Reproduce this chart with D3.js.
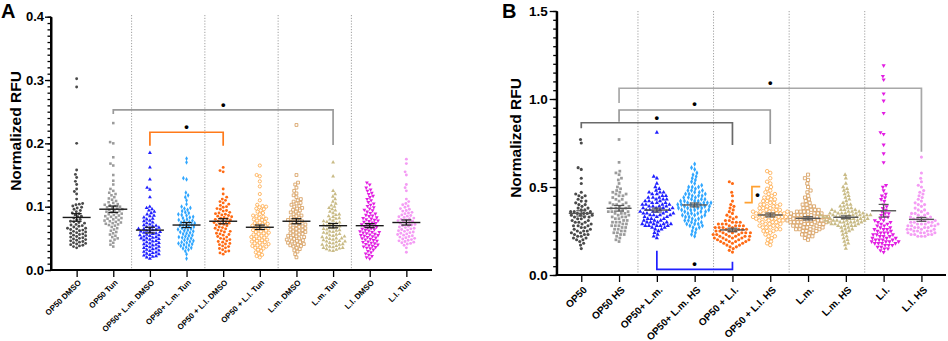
<!DOCTYPE html>
<html><head><meta charset="utf-8">
<script src="https://cdn.jsdelivr.net/npm/d3@7"></script>
<style>body{margin:0;background:#fff}svg{display:block}text{font-family:"Liberation Sans",Arial,sans-serif;font-weight:bold;fill:#000}</style>
</head><body><svg id="c" width="948" height="341"></svg>
<script>
// ---------------- DATA ----------------
const catsA = ["OP50 DMSO","OP50 Tun","OP50+ L.m. DMSO","OP50+ L.m. Tun","OP50 + L.l. DMSO","OP50 + L.l. Tun","L.m. DMSO","L.m. Tun","L.l. DMSO","L.l. Tun"];
const catsB = ["OP50","OP50 HS","OP50+ L.m.","OP50+ L.m. HS","OP50 + L.l.","OP50 + L.l. HS","L.m.","L.m. HS","L.l.","L.l. HS"];
const yTicksA = [0.0,0.1,0.2,0.3,0.4];
const yTicksB = [0.0,0.5,1.0,1.5];
const colors = ["#4a4a4a","#9b9b9b","#2020ff","#2fa6ff","#ff6a13","#ffa845","#d69a58","#c9bb86","#e21ee2","#f49cf4"];
const shapes = ["circle","square","triangle","diamond","circle","circleOpen","squareOpen","triangle","triangleDown","circle"];

const meanA = [0.083,0.096,0.063,0.071,0.077,0.0675,0.077,0.070,0.070,0.075];
const semA  = [0.006,0.005,0.0045,0.004,0.004,0.0035,0.004,0.0035,0.0032,0.004];
const meanB = [0.350,0.379,0.369,0.398,0.256,0.341,0.322,0.328,0.365,0.316];
const semB  = [0.015,0.016,0.011,0.011,0.010,0.011,0.009,0.008,0.036,0.011];

const a1 = [.302,.289,.200,.158,.151,.146,.140,.135,.128,.124,.120,.112,.104,.066,.064,.058,.052,.049,.042,.039,.105,.103,.101,.099,.098,.096,.094,.092,.090,.089,.087,.085,.084,.082,.080,.079,.077,.076,.074,.072,.071,.069,.068,.066,.065,.063,.062,.060,.059,.057,.056,.054,.053,.051,.050,.048,.047,.046,.044,.043,.041,.040,.038,.037,.035,.070,.075,.061,.055,.045];
const a2 = [.232,.202,.200,.178,.168,.165,.150,.141,.135,.128,.125,.122,.120,.118,.115,.113,.111,.109,.107,.106,.104,.103,.102,.101,.100,.099,.098,.097,.096,.095,.094,.093,.092,.091,.090,.089,.088,.087,.086,.085,.084,.083,.082,.081,.080,.079,.078,.077,.076,.075,.074,.073,.072,.071,.070,.068,.066,.064,.062,.060,.058,.056,.054,.052,.050,.048,.046,.043,.040,.037];
const a3 = [.185,.162,.143,.130,.127,.115,.100,.098,.096,.094,.092,.090,.088,.086,.085,.083,.081,.080,.078,.077,.075,.074,.072,.071,.070,.069,.068,.067,.066,.065,.064,.063,.062,.061,.060,.059,.058,.057,.056,.055,.054,.053,.052,.051,.050,.049,.048,.047,.046,.045,.044,.043,.042,.041,.040,.039,.038,.037,.036,.035,.034,.033,.032,.031,.030,.029,.028,.027,.026,.025,.024,.023,.022,.021,.020,.018,.060,.065,.055,.050];
const a4 = [.176,.170,.145,.143,.122,.118,.115,.110,.104,.100,.098,.097,.095,.093,.091,.090,.088,.087,.086,.084,.083,.082,.080,.079,.078,.077,.076,.075,.074,.073,.072,.071,.070,.069,.068,.067,.066,.065,.064,.063,.062,.061,.060,.059,.058,.057,.055,.054,.053,.052,.051,.050,.049,.047,.046,.045,.044,.043,.042,.041,.040,.039,.038,.036,.035,.034,.032,.030,.025,.018];
const a5 = [.162,.157,.155,.128,.120,.115,.112,.110,.108,.106,.104,.102,.100,.099,.097,.096,.094,.093,.091,.090,.089,.088,.087,.086,.085,.084,.082,.081,.080,.079,.078,.077,.076,.075,.074,.073,.072,.071,.070,.068,.067,.066,.065,.063,.062,.061,.060,.058,.057,.056,.055,.053,.052,.050,.049,.048,.046,.045,.044,.042,.041,.040,.038,.037,.035,.034,.032,.030,.029,.027,.025,.083];
const a6 = [.165,.150,.148,.140,.132,.120,.110,.103,.101,.100,.099,.097,.096,.094,.092,.090,.088,.086,.085,.084,.082,.081,.080,.079,.078,.076,.075,.074,.073,.072,.071,.070,.069,.068,.067,.066,.065,.064,.063,.062,.061,.060,.059,.058,.057,.056,.055,.054,.053,.052,.051,.050,.049,.048,.047,.046,.045,.044,.043,.042,.041,.040,.039,.038,.037,.036,.035,.034,.032,.030,.028,.026,.024,.022,.020];
const a7 = [.229,.150,.138,.135,.130,.125,.121,.118,.115,.112,.110,.108,.106,.105,.103,.101,.100,.098,.097,.095,.094,.092,.091,.089,.088,.086,.085,.083,.082,.081,.079,.078,.077,.076,.075,.074,.072,.071,.070,.069,.068,.067,.066,.065,.064,.063,.062,.061,.060,.059,.058,.057,.056,.055,.054,.053,.052,.051,.050,.049,.048,.047,.046,.045,.044,.043,.042,.041,.040,.039,.038,.037,.035,.033,.031,.029,.025,.020];
const a8 = [.170,.148,.125,.120,.116,.112,.108,.105,.102,.100,.098,.096,.094,.092,.090,.088,.087,.085,.084,.082,.081,.080,.078,.077,.076,.075,.074,.073,.072,.071,.070,.069,.068,.067,.066,.065,.064,.063,.062,.061,.060,.059,.058,.057,.056,.055,.054,.053,.052,.051,.050,.049,.048,.047,.046,.045,.044,.043,.042,.041,.040,.039,.038,.037,.036,.035,.034,.033,.032,.031,.030,.045,.050,.040,.035];
const a9 = [.138,.135,.130,.127,.125,.122,.120,.117,.115,.112,.110,.107,.105,.103,.101,.099,.097,.095,.094,.092,.090,.089,.087,.086,.085,.083,.082,.081,.080,.079,.078,.077,.076,.075,.074,.073,.072,.071,.070,.069,.068,.067,.066,.065,.064,.063,.062,.061,.060,.059,.058,.057,.056,.055,.054,.053,.052,.051,.050,.049,.048,.047,.046,.045,.044,.043,.042,.041,.040,.039,.038,.037,.036,.035,.034,.032,.030,.028,.026,.024,.022,.020,.018,.060,.055];
const a10 = [.175,.168,.155,.150,.135,.130,.125,.112,.108,.105,.103,.101,.099,.097,.096,.094,.093,.091,.090,.089,.087,.086,.085,.084,.083,.082,.081,.080,.079,.078,.077,.076,.075,.074,.073,.072,.071,.070,.069,.068,.067,.066,.065,.064,.063,.062,.061,.060,.059,.058,.057,.056,.055,.054,.053,.052,.051,.050,.049,.048,.047,.046,.045,.044,.043,.042,.041,.039,.035,.028];

const b1 = [.77,.75,.61,.60,.55,.52,.47,.46,.45,.45,.44,.43,.42,.42,.41,.40,.40,.39,.38,.38,.37,.37,.36,.36,.36,.35,.35,.35,.34,.34,.34,.33,.33,.33,.32,.32,.31,.31,.30,.30,.29,.29,.28,.28,.27,.27,.26,.26,.25,.25,.24,.24,.23,.23,.23,.22,.22,.21,.21,.20,.20,.19,.18,.17,.15,.30,.28,.25];
const b2 = [.77,.64,.59,.58,.57,.55,.54,.52,.50,.49,.48,.47,.46,.46,.45,.44,.43,.43,.42,.41,.41,.40,.40,.39,.39,.38,.38,.37,.37,.36,.36,.35,.35,.34,.34,.33,.33,.32,.32,.31,.31,.30,.30,.29,.29,.28,.28,.27,.27,.26,.26,.25,.25,.24,.24,.23,.23,.22,.21,.20,.19,.36,.38,.40,.33,.30,.28,.45,.47,.35];
const b3 = [.81,.56,.55,.52,.50,.49,.48,.47,.47,.46,.45,.45,.44,.44,.43,.43,.42,.42,.41,.41,.40,.40,.40,.39,.39,.39,.38,.38,.38,.37,.37,.37,.36,.36,.36,.35,.35,.35,.34,.34,.34,.33,.33,.32,.32,.31,.31,.30,.30,.30,.29,.29,.29,.28,.28,.28,.28,.27,.27,.26,.25,.24,.23,.22,.21,.42,.44,.46,.38,.36,.33,.31,.29,.40,.43,.37,.35,.30,.28,.41,.39,.34,.32,.26,.47];
const b4 = [.63,.61,.60,.58,.57,.56,.55,.54,.53,.52,.51,.50,.50,.49,.48,.48,.47,.47,.46,.46,.45,.45,.44,.44,.43,.43,.42,.42,.42,.41,.41,.41,.40,.40,.40,.39,.39,.39,.38,.38,.38,.37,.37,.37,.36,.36,.35,.35,.34,.34,.33,.33,.32,.32,.31,.31,.30,.30,.29,.29,.28,.28,.27,.27,.26,.25,.24,.23,.22,.40,.42,.44,.38,.36,.46,.48,.35,.33,.41,.39,.43,.37,.45,.31,.50,.29,.34,.40];
const b5 = [.53,.52,.47,.45,.42,.40,.39,.38,.37,.36,.35,.34,.33,.33,.32,.31,.31,.30,.30,.29,.29,.28,.28,.28,.27,.27,.27,.26,.26,.26,.25,.25,.25,.24,.24,.24,.23,.23,.23,.22,.22,.22,.21,.21,.21,.20,.20,.20,.19,.19,.19,.18,.18,.17,.17,.16,.16,.15,.14,.13,.25,.27,.23,.21,.19,.24,.22,.20,.26,.18,.28,.30,.24,.22,.29];
const b6 = [.59,.58,.55,.53,.52,.50,.49,.48,.47,.46,.45,.44,.44,.43,.42,.42,.41,.40,.40,.39,.39,.38,.38,.37,.37,.36,.36,.36,.35,.35,.35,.34,.34,.34,.33,.33,.33,.32,.32,.32,.31,.31,.30,.30,.29,.29,.28,.28,.27,.27,.26,.26,.25,.25,.24,.23,.22,.21,.20,.19,.18,.17,.35,.37,.33,.31,.39,.41,.36,.34,.38,.32,.30,.29,.27,.40,.43,.35,.33,.31,.36,.28,.25,.22,.46];
const b7 = [.57,.55,.54,.52,.50,.48,.47,.45,.44,.43,.42,.41,.40,.40,.39,.39,.38,.38,.37,.37,.36,.36,.36,.35,.35,.35,.34,.34,.34,.34,.33,.33,.33,.33,.32,.32,.32,.32,.31,.31,.31,.31,.30,.30,.30,.30,.29,.29,.29,.28,.28,.28,.27,.27,.27,.26,.26,.26,.25,.25,.24,.24,.23,.23,.22,.22,.21,.20,.33,.31,.29,.35,.27,.30,.32,.28,.34,.36,.26,.30,.31,.25,.29,.33,.37];
const b8 = [.57,.55,.52,.50,.49,.48,.47,.46,.45,.44,.43,.42,.41,.40,.40,.39,.39,.38,.38,.37,.37,.37,.36,.36,.36,.35,.35,.35,.35,.34,.34,.34,.34,.33,.33,.33,.33,.33,.32,.32,.32,.32,.31,.31,.31,.31,.30,.30,.30,.30,.29,.29,.29,.28,.28,.28,.27,.27,.26,.26,.25,.25,.24,.23,.22,.21,.20,.19,.18,.17,.15,.34,.33,.32,.35,.31,.36,.30,.34,.32,.33,.29,.37,.31,.28,.35,.34,.30];
const b9 = [1.19,1.13,1.11,1.03,.99,.92,.81,.80,.74,.69,.64,.51,.50,.48,.46,.45,.44,.43,.42,.40,.39,.38,.37,.36,.35,.35,.34,.33,.33,.32,.31,.31,.30,.30,.29,.29,.28,.28,.27,.27,.26,.26,.25,.25,.24,.24,.23,.23,.22,.22,.21,.21,.20,.20,.20,.19,.19,.19,.18,.18,.18,.17,.17,.17,.16,.16,.15,.15,.14,.13,.22,.24,.19,.21,.26,.18,.23,.20];
const b10 = [.67,.58,.55,.53,.51,.50,.48,.47,.46,.45,.44,.43,.42,.41,.40,.40,.39,.38,.37,.37,.36,.35,.35,.34,.34,.33,.33,.32,.32,.31,.31,.30,.30,.30,.29,.29,.29,.28,.28,.28,.27,.27,.27,.26,.26,.26,.25,.25,.25,.24,.24,.24,.23,.23,.23,.22,.22,.22,.30,.28,.26,.32,.24,.27,.29,.25,.31,.23,.35,.33];

const dataA = [a1,a2,a3,a4,a5,a6,a7,a8,a9,a10];
const dataB = [b1,b2,b3,b4,b5,b6,b7,b8,b9,b10];

// significance brackets: from/to category index, bar level, left/right leg ends (data units)
const bracketsA = [
  {from:1,to:7,y:0.2528,l:0.2464,r:0.1975,star:0.2607,color:"#9a9a9a"},
  {from:2,to:4,y:0.2175,l:0.1964,r:0.1964,star:0.2264,color:"#ff7a1a"}
];
const bracketsB = [
  {from:1,to:9,y:1.061,l:0.977,r:0.700,star:1.093,color:"#a8a8a8"},
  {from:1,to:5,y:0.9375,l:0.871,r:0.744,star:0.972,color:"#9a9a9a"},
  {from:0,to:4,y:0.865,l:0.834,r:0.739,star:0.896,color:"#6a6a6a"},
  {from:2,to:4,y:0.032,l:0.138,r:0.0756,star:0.066,color:"#2020ff"}
];
const hookB = {cat:5, yLow:0.411, yHigh:0.502, star:0.455, color:"#ffa030"};

// ---------------- DRAW ----------------
const svg = d3.select("#c");

function dodge(ys, d) {
  const placed = [], xs = new Array(ys.length);
  const order = d3.range(ys.length).sort((a,b)=>ys[b]-ys[a]);
  for (const i of order) {
    const y = ys[i];
    const near = placed.filter(p => Math.abs(p.y - y) < d);
    const cands = [0];
    for (const p of near) { const dx = Math.sqrt(d*d - (p.y-y)*(p.y-y)); cands.push(p.x+dx, p.x-dx); }
    cands.sort((a,b)=>Math.abs(a)-Math.abs(b) || a-b);
    for (const c of cands) {
      if (near.every(p => (p.x-c)*(p.x-c)+(p.y-y)*(p.y-y) >= d*d-1e-6)) { xs[i]=c; break; }
    }
    placed.push({x:xs[i], y});
  }
  return xs;
}

const symTypes = {circle:d3.symbolCircle, square:d3.symbolSquare, triangle:d3.symbolTriangle, diamond:d3.symbolDiamond, circleOpen:d3.symbolCircle, squareOpen:d3.symbolSquare, triangleDown:d3.symbolTriangle};

function drawPanel(p) {
  const g = svg.append("g");
  const x = d3.scalePoint().domain(p.cats).range([p.x0, p.x1]).padding(p.pad);
  const y = d3.scaleLinear().domain([0, p.yMax]).range([p.yB, p.yT]);

  // separators
  [1,3,5,7].forEach(i => {
    const xm = (x(p.cats[i]) + x(p.cats[i+1]))/2;
    g.append("line").attr("x1",xm).attr("x2",xm).attr("y1",p.sepTop).attr("y2",p.yB)
      .attr("stroke","#a0a0a0").attr("stroke-width",1).attr("stroke-dasharray","1.2,1.6");
  });

  // brackets
  p.brackets.forEach(b => {
    const xa = x(p.cats[b.from]), xb = x(p.cats[b.to]);
    g.append("path").attr("d", `M${xa},${y(b.l)}V${y(b.y)}H${xb}V${y(b.r)}`)
      .attr("fill","none").attr("stroke",b.color).attr("stroke-width",1.7);
    g.append("text").attr("x",(xa+xb)/2).attr("y",y(b.star)).attr("text-anchor","middle")
      .attr("dominant-baseline","central").attr("font-size",13).text("•");
  });

  // points
  p.cats.forEach((c,i) => {
    const vals = p.data[i];
    const ys = vals.map(y);
    const xs = dodge(ys, p.d);
    const sh = shapes[i];
    const open = sh.endsWith("Open");
    const sym = d3.symbol().type(symTypes[sh]).size(open ? p.sizeOpen : p.size);
    const rot = sh === "triangleDown" ? " rotate(180)" : "";
    g.append("g").selectAll("path").data(vals).join("path")
      .attr("d", sym)
      .attr("transform",(v,k)=>`translate(${x(c)+xs[k]},${ys[k]})${rot}`)
      .attr("fill", open ? "#fff" : colors[i])
      .attr("stroke", open ? colors[i] : "none")
      .attr("stroke-width", open ? 0.8 : 0);
  });

  // mean ± SEM
  p.cats.forEach((c,i) => {
    const cx = x(c), m = p.means[i], s = p.sems[i];
    g.append("line").attr("x1",cx-p.mw).attr("x2",cx+p.mw).attr("y1",y(m)).attr("y2",y(m))
      .attr("stroke",p.meanColor).attr("stroke-width",1.4);
    g.append("line").attr("x1",cx).attr("x2",cx).attr("y1",y(m-s)).attr("y2",y(m+s))
      .attr("stroke",p.meanColor).attr("stroke-width",1.2);
    [m-s,m+s].forEach(v => g.append("line").attr("x1",cx-5).attr("x2",cx+5).attr("y1",y(v)).attr("y2",y(v))
      .attr("stroke",p.meanColor).attr("stroke-width",1.2));
  });

  // axes
  const yMinor = d3.range(0, p.yMax + 1e-9, p.minor);
  const gyMinor = g.append("g").attr("transform",`translate(${p.x0},0)`)
    .call(d3.axisLeft(y).tickValues(yMinor).tickSize(3.5).tickSizeOuter(0).tickFormat(""));
  const gy = g.append("g").attr("transform",`translate(${p.x0},0)`)
    .call(d3.axisLeft(y).tickValues(p.ticks).tickSize(p.majorTick).tickPadding(p.tickPad).tickSizeOuter(0).tickFormat(d3.format(".1f")));
  const gx = g.append("g").attr("transform",`translate(0,${p.yB})`)
    .call(d3.axisBottom(x).tickSize(7).tickSizeOuter(0).tickFormat(""));
  [gyMinor, gy, gx].forEach(a => {
    a.select(".domain").attr("stroke","#000").attr("stroke-width",2);
    a.selectAll(".tick line").attr("stroke","#000").attr("stroke-width",1.3);
  });
  gy.selectAll("text").attr("font-size",p.yFont).attr("font-family","Liberation Sans, Arial, sans-serif").attr("font-weight","bold");
  gy.select(".domain").attr("d",`M0,${p.yB}V${p.yT}`);
  gx.select(".domain").attr("d",`M${p.x0-1},0H${p.x1}`);

  // x labels
  p.cats.forEach(c => {
    g.append("text").attr("transform",`translate(${x(c)+p.lx},${p.yB+p.ly}) rotate(-45)`)
      .attr("text-anchor","end").attr("dy","0.35em").attr("font-size",p.xFont).text(c);
  });

  // y title
  g.append("text").attr("transform",`translate(${p.titleX},${p.titleY}) rotate(-90)`)
    .attr("text-anchor","middle").attr("dominant-baseline","central").attr("font-size",15.5).text("Normalized RFU");
  // panel letter
  g.append("text").attr("x",p.letterX).attr("y",p.letterY).attr("font-size",20).text(p.letter);
  return {x,y,g};
}

drawPanel({cats:catsA, data:dataA, means:meanA, sems:semA, x0:51, x1:432, pad:0.7, yT:16.7, yB:270, yMax:0.4,
  ticks:yTicksA, minor:0.01, majorTick:6, tickPad:1, yFont:13, xFont:8, lx:3, ly:11, d:3.4, size:6.5, sizeOpen:8,
  mw:14, meanColor:"#1a1a1a", sepTop:15, brackets:bracketsA, titleX:15, titleY:131, letter:"A", letterX:1, letterY:17.5});

const PB = drawPanel({cats:catsB, data:dataB, means:meanB, sems:semB, x0:556.7, x1:946, pad:0.65, yT:11, yB:275, yMax:1.5,
  ticks:yTicksB, minor:0.05, majorTick:7, tickPad:2, yFont:13.5, xFont:10, lx:4, ly:13, d:3.6, size:7.5, sizeOpen:9.5,
  mw:12.5, meanColor:"#555", sepTop:11, brackets:bracketsB, titleX:515, titleY:138, letter:"B", letterX:502, letterY:18});

// small hook bracket next to OP50 + L.l. HS
{
  const cx = PB.x(catsB[hookB.cat]);
  const yl = PB.y(hookB.yLow), yh = PB.y(hookB.yHigh);
  PB.g.append("path").attr("d",`M${cx-25.7},${yl}H${cx-18.3}V${yh}H${cx-10}`)
    .attr("fill","none").attr("stroke",hookB.color).attr("stroke-width",1.7);
  PB.g.append("text").attr("x",cx-12.7).attr("y",PB.y(hookB.star)).attr("text-anchor","middle")
    .attr("dominant-baseline","central").attr("font-size",13).text("•");
}
</script></body></html>
